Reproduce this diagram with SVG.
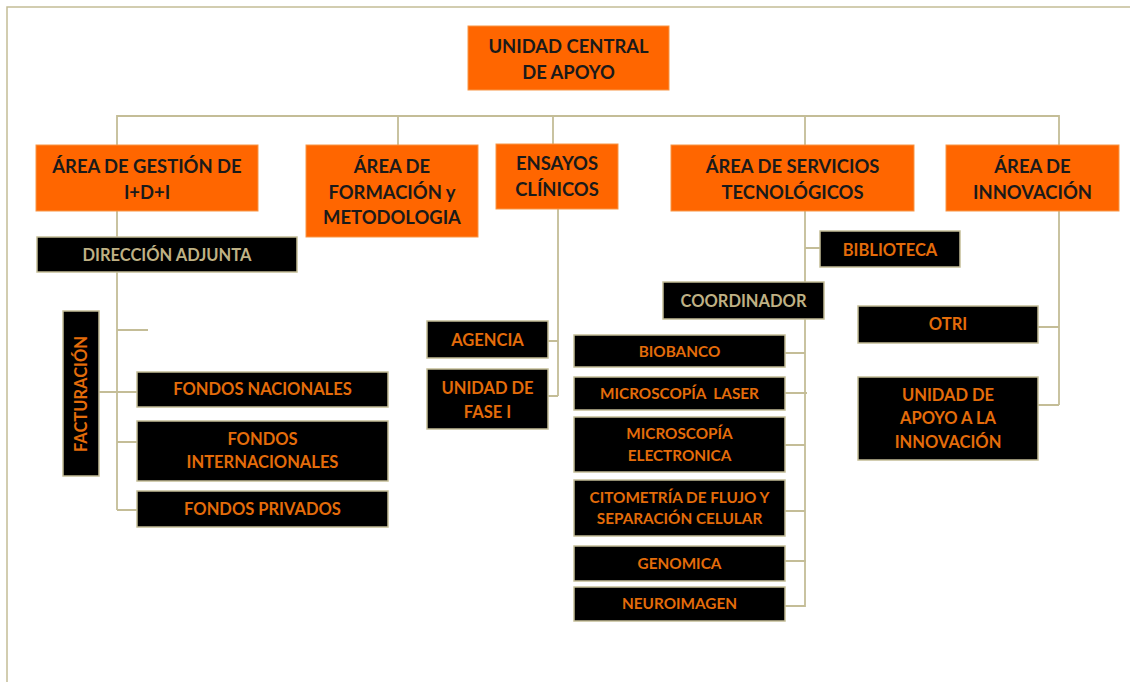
<svg xmlns="http://www.w3.org/2000/svg" width="1130" height="682" viewBox="0 0 1130 682">
<style>
.frame{fill:none;stroke:#c4bd97;stroke-width:1.5}
.conn{fill:none;stroke:#c4bd97;stroke-width:1.8}
.ob{fill:#ff6600;stroke:#f79646;stroke-width:1}
.bb{fill:#000;stroke:#c4bd97;stroke-width:1.5}
.ot{font-family:Lato,"Liberation Sans",sans-serif;font-weight:700;font-size:18.4px;fill:#1a1a1a;text-anchor:middle}
.bt{font-family:Lato,"Liberation Sans",sans-serif;font-weight:700;font-size:16.5px;fill:#e46c0a;text-anchor:middle}
.st{font-size:15.3px}
.kt{fill:#bfb184}
</style>
<rect width="1130" height="682" fill="#fff"/>
<path class="frame" d="M7,682 V7 H1130"/>
<g id="connectors">
<path class="conn" d="M117,145 V116 H1059 V145 M398,116 V145 M553,116 V144 M805,116 V145"/>
<path class="conn" d="M117,211 V237 M117,272 V510 M117,330 H148 M99,392 H137 M117,442 H137 M117,510 H137"/>
<path class="conn" d="M558,209 V396 M548,341 H558 M548,396 H558"/>
<path class="conn" d="M805,211 V607 M805,248 H820 M785,353 H805 M785,393 H807 M785,445 H805 M785,511 H805 M785,561 H806 M785,606 H805"/>
<path class="conn" d="M1059,211 V405 M1038,327 H1059 M1038,405 H1059"/>
</g>
<g id="unidad-central"><rect class="ob" x="468" y="26" width="201" height="64"/><text class="ot" x="568.5" y="53">UNIDAD CENTRAL</text><text class="ot" x="568.5" y="79">DE APOYO</text></g>
<g id="area-gestion"><rect class="ob" x="36" y="145" width="222" height="66"/><text class="ot" x="147" y="173">ÁREA DE GESTIÓN DE</text><text class="ot" x="147" y="199">I+D+I</text></g>
<g id="area-formacion"><rect class="ob" x="306" y="145" width="172" height="92"/><text class="ot" x="392" y="173">ÁREA DE</text><text class="ot" x="392" y="199">FORMACIÓN y</text><text class="ot" x="392" y="224">METODOLOGIA</text></g>
<g id="ensayos"><rect class="ob" x="496" y="144" width="122" height="65"/><text class="ot" x="557" y="170">ENSAYOS</text><text class="ot" x="557" y="196">CLÍNICOS</text></g>
<g id="area-servicios"><rect class="ob" x="671" y="145" width="243" height="66"/><text class="ot" x="792.5" y="173">ÁREA DE SERVICIOS</text><text class="ot" x="792.5" y="199">TECNOLÓGICOS</text></g>
<g id="area-innovacion"><rect class="ob" x="946" y="145" width="173" height="66"/><text class="ot" x="1032.5" y="173">ÁREA DE</text><text class="ot" x="1032.5" y="199">INNOVACIÓN</text></g>
<g id="direccion-adjunta"><rect class="bb" x="37" y="237" width="260" height="35"/><text class="bt kt" x="167" y="261">DIRECCIÓN ADJUNTA</text></g>
<g id="facturacion"><rect class="bb" x="63" y="311" width="36" height="165"/><text class="bt" transform="translate(87,394) rotate(-90)">FACTURACIÓN</text></g>
<g id="fondos-nacionales"><rect class="bb" x="137" y="372" width="251" height="35"/><text class="bt" x="262.5" y="395">FONDOS NACIONALES</text></g>
<g id="fondos-internacionales"><rect class="bb" x="137" y="421" width="251" height="60"/><text class="bt" x="262.5" y="445">FONDOS</text><text class="bt" x="262.5" y="468">INTERNACIONALES</text></g>
<g id="fondos-privados"><rect class="bb" x="137" y="491" width="251" height="36"/><text class="bt" x="262.5" y="515">FONDOS PRIVADOS</text></g>
<g id="agencia"><rect class="bb" x="427" y="321" width="121" height="37"/><text class="bt" x="487.5" y="346">AGENCIA</text></g>
<g id="unidad-fase-i"><rect class="bb" x="427" y="369" width="121" height="60"/><text class="bt" x="487.5" y="394">UNIDAD DE</text><text class="bt" x="487.5" y="418">FASE I</text></g>
<g id="biblioteca"><rect class="bb" x="820" y="231" width="140" height="36"/><text class="bt" x="890" y="256">BIBLIOTECA</text></g>
<g id="coordinador"><rect class="bb" x="663" y="282" width="161" height="37"/><text class="bt kt" x="743.5" y="307">COORDINADOR</text></g>
<g id="biobanco"><rect class="bb" x="574" y="335" width="211" height="32"/><text class="bt st" x="679.5" y="357">BIOBANCO</text></g>
<g id="microscopia-laser"><rect class="bb" x="574" y="377" width="211" height="33"/><text class="bt st" x="679.5" y="399" xml:space="preserve">MICROSCOPÍA  LASER</text></g>
<g id="microscopia-electronica"><rect class="bb" x="574" y="417" width="211" height="55"/><text class="bt st" x="679.5" y="439">MICROSCOPÍA</text><text class="bt st" x="679.5" y="461">ELECTRONICA</text></g>
<g id="citometria"><rect class="bb" x="574" y="480" width="211" height="56"/><text class="bt st" x="679.5" y="503">CITOMETRÍA DE FLUJO Y</text><text class="bt st" x="679.5" y="524">SEPARACIÓN CELULAR</text></g>
<g id="genomica"><rect class="bb" x="574" y="546" width="211" height="35"/><text class="bt st" x="679.5" y="569">GENOMICA</text></g>
<g id="neuroimagen"><rect class="bb" x="574" y="587" width="211" height="34"/><text class="bt st" x="679.5" y="609">NEUROIMAGEN</text></g>
<g id="otri"><rect class="bb" x="858" y="306" width="180" height="37"/><text class="bt" x="948" y="330">OTRI</text></g>
<g id="unidad-apoyo-innovacion"><rect class="bb" x="858" y="377" width="180" height="83"/><text class="bt" x="948" y="401">UNIDAD DE</text><text class="bt" x="948" y="424">APOYO A LA</text><text class="bt" x="948" y="448">INNOVACIÓN</text></g>
</svg>
